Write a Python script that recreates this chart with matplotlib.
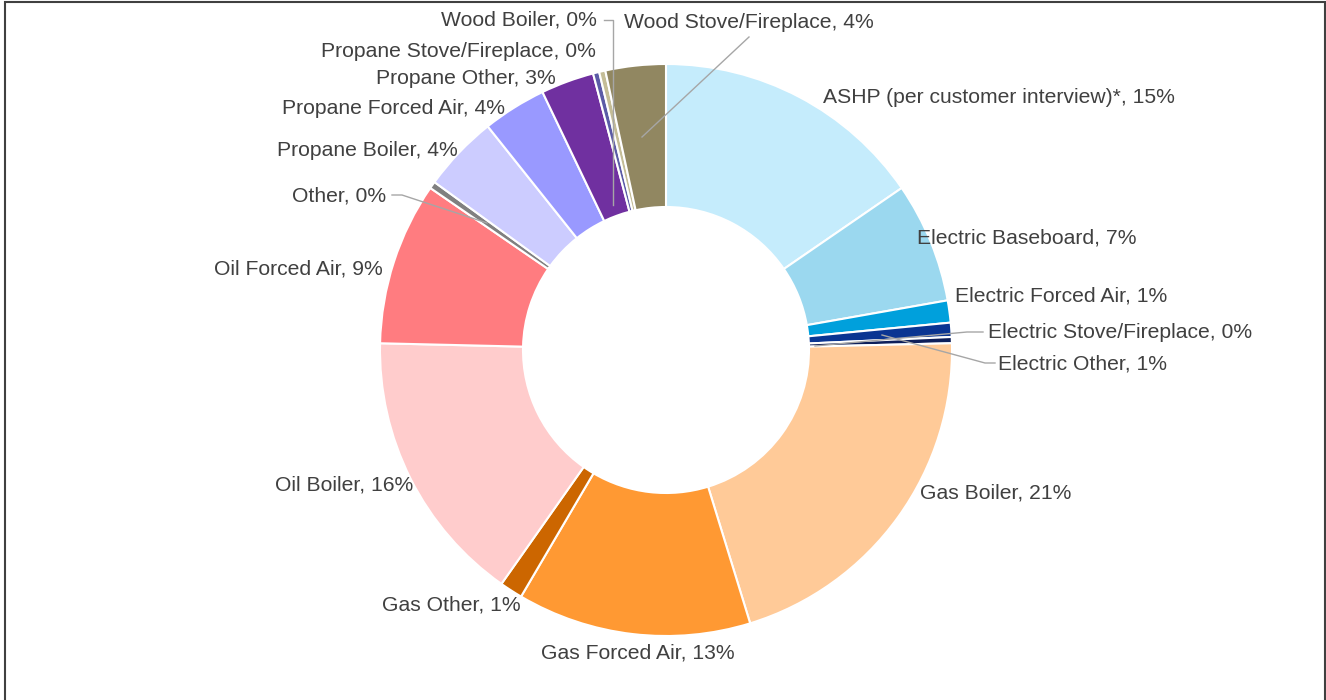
import matplotlib.pyplot as plt
from matplotlib.patches import Rectangle

plt.rcParams["font.family"] = ["Liberation Sans", "DejaVu Sans"]

# slices, clockwise from 12 o'clock
categories = [
    "ASHP (per customer interview)*", "Electric Baseboard", "Electric Forced Air",
    "Electric Other", "Electric Stove/Fireplace", "Gas Boiler", "Gas Forced Air",
    "Gas Other", "Oil Boiler", "Oil Forced Air", "Other", "Propane Boiler",
    "Propane Forced Air", "Propane Other", "Propane Stove/Fireplace",
    "Wood Boiler", "Wood Stove/Fireplace",
]
shares = [15.4, 6.8, 1.25, 0.8, 0.35, 20.6, 13.2, 1.3, 15.6, 9.2, 0.4,
          4.3, 3.6, 3.0, 0.35, 0.35, 3.4]
pct_labels = ["15%", "7%", "1%", "1%", "0%", "21%", "13%", "1%", "16%", "9%",
              "0%", "4%", "4%", "3%", "0%", "0%", "4%"]
colors = ["#C5ECFC", "#9BD8EF", "#00A0DC", "#0A3592", "#0E1F5A", "#FFCA98",
          "#FF9933", "#CC6600", "#FFCCCC", "#FF7C80", "#808080", "#CCCCFF",
          "#9999FF", "#7030A0", "#5B5BA6", "#C4BD97", "#918761"]

W, H = 1326, 700
CX, CY, R = 666, 350, 286


def to_data(px, py):
    return (px - CX) / R, (CY - py) / R


# label anchor (left/right edge in px, centre y in px), alignment
label_pos = {
    "ASHP (per customer interview)*": (823, 97, "left"),
    "Electric Baseboard": (917, 238, "left"),
    "Electric Forced Air": (955, 296, "left"),
    "Electric Stove/Fireplace": (988, 332, "left"),
    "Electric Other": (998, 364, "left"),
    "Gas Boiler": (920, 493, "left"),
    "Gas Forced Air": (638, 653, "center"),
    "Gas Other": (521, 605, "right"),
    "Oil Boiler": (413, 485, "right"),
    "Oil Forced Air": (383, 269, "right"),
    "Other": (386, 196, "right"),
    "Propane Boiler": (458, 150, "right"),
    "Propane Forced Air": (505, 108, "right"),
    "Propane Other": (556, 78, "right"),
    "Propane Stove/Fireplace": (596, 51, "right"),
    "Wood Boiler": (597, 20, "right"),
    "Wood Stove/Fireplace": (624, 22, "left"),
}
# leader lines (px): label side -> slice
leaders = {
    "Wood Boiler": [(604, 20), (613, 20), (613, 205)],
    "Wood Stove/Fireplace": [(749, 37), (642, 137)],
    "Other": [(392, 195), (402, 195), (487, 223)],
    "Electric Stove/Fireplace": [(983, 332), (967, 332), (815, 346)],
    "Electric Other": [(995, 363), (985, 363), (882, 335)],
}

fig = plt.figure(figsize=(W / 100, H / 100), dpi=100)
ax = fig.add_axes([0, 0, 1, 1])

ax.pie(shares, colors=colors, startangle=90, counterclock=False, radius=1,
       wedgeprops=dict(width=0.5, edgecolor="white", linewidth=1.5))
ax.set_xlim(-CX / R, (W - CX) / R)
ax.set_ylim(-(H - CY) / R, CY / R)
ax.set_aspect("equal")
ax.axis("off")

for name, pct in zip(categories, pct_labels):
    px, py, ha = label_pos[name]
    x, y = to_data(px, py)
    ax.text(x, y, f"{name}, {pct}", ha=ha, va="center", fontsize=15.2,
            color="#404040")

for name, pts in leaders.items():
    xs, ys = zip(*[to_data(px, py) for px, py in pts])
    ax.plot(xs, ys, color="#A6A6A6", linewidth=1.0)

fig.patches.append(Rectangle((5 / W, -0.01), 1320 / W, 1.0 - 1.5 / H + 0.01,
                             transform=fig.transFigure, fill=False,
                             edgecolor="#404040", linewidth=1.5))

fig.savefig("out.png", dpi=100)
